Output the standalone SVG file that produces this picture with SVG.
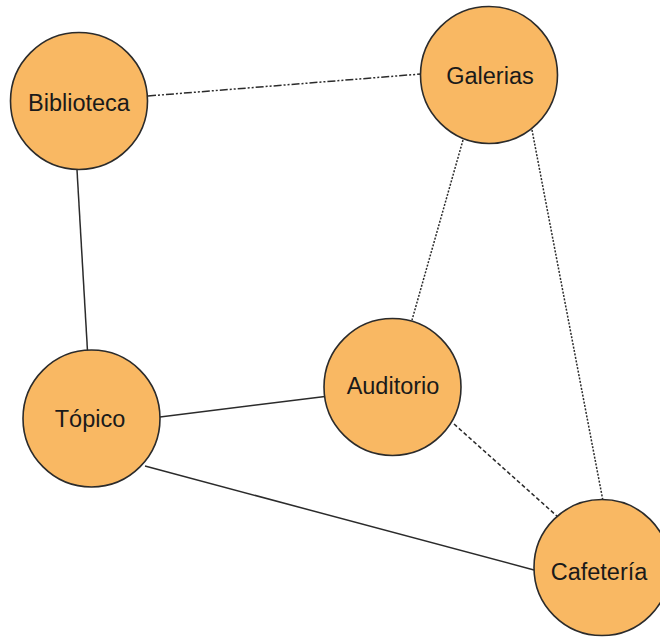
<svg xmlns="http://www.w3.org/2000/svg" width="660" height="638" viewBox="0 0 660 638">
  <style>
    .node circle { fill: #F9B863; stroke: #2b2b2b; stroke-width: 1.6; }
    .node text { font-family: "Liberation Sans", Arial, sans-serif; font-size: 23.5px; fill: #1a1a1a; text-anchor: middle; }
    .edge { stroke: #2b2b2b; stroke-width: 1.5; fill: none; }
    .dotted { stroke-dasharray: 2 1.5; }
    .dashed { stroke-dasharray: 4 2.5; }
    .dashdot { stroke-dasharray: 8 2 2 2 2 2; }
  </style>
  <rect width="660" height="638" fill="#ffffff"/>
  <g id="connectors">
    <line class="edge dashdot" x1="148" y1="96" x2="421" y2="74"/>
    <line class="edge" x1="77" y1="170" x2="87.5" y2="351"/>
    <line class="edge dotted" x1="463" y1="140" x2="412" y2="320"/>
    <line class="edge dotted" x1="532" y1="130" x2="603" y2="501"/>
    <line class="edge dashed" x1="454" y1="424" x2="558" y2="517"/>
    <line class="edge" x1="160" y1="417" x2="325" y2="396.5"/>
    <line class="edge" x1="145" y1="466" x2="534" y2="570"/>
  </g>
  <g id="biblioteca" class="node">
    <circle cx="79" cy="101" r="68.5"/>
    <text x="79" y="110.5">Biblioteca</text>
  </g>
  <g id="galerias" class="node">
    <circle cx="489" cy="75" r="68.5"/>
    <text x="490" y="83.5">Galerias</text>
  </g>
  <g id="topico" class="node">
    <circle cx="91.5" cy="418.5" r="68.5"/>
    <text x="90" y="427">Tópico</text>
  </g>
  <g id="auditorio" class="node">
    <circle cx="392.5" cy="387" r="68.5"/>
    <text x="393" y="394">Auditorio</text>
  </g>
  <g id="cafeteria" class="node">
    <circle cx="602" cy="567.5" r="68"/>
    <text x="599" y="580">Cafetería</text>
  </g>
</svg>
